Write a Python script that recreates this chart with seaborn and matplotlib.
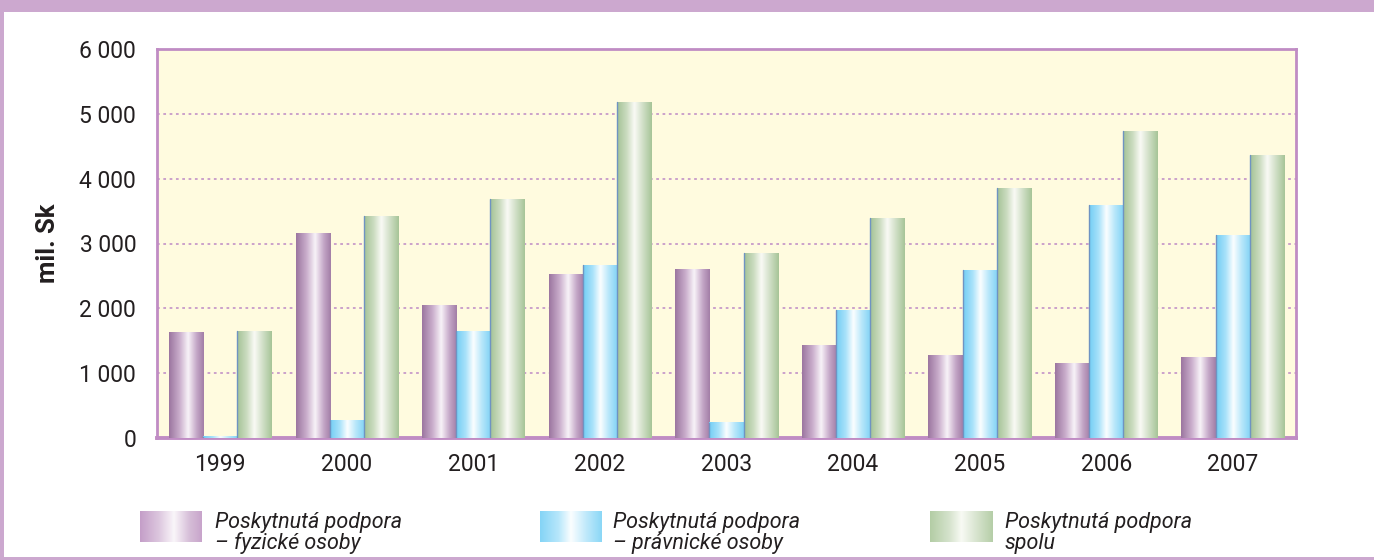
import numpy as np
import pandas as pd
import matplotlib
matplotlib.use("Agg")
import matplotlib.pyplot as plt
from matplotlib.colors import LinearSegmentedColormap
from matplotlib.patches import Rectangle
import seaborn as sns

years = ["1999", "2000", "2001", "2002", "2003", "2004", "2005", "2006", "2007"]
fyzicke = [1630, 3150, 2045, 2525, 2600, 1430, 1275, 1150, 1245]
pravnicke = [20, 270, 1645, 2665, 235, 1970, 2585, 3590, 3130]
spolu = [1645, 3420, 3685, 5180, 2850, 3390, 3855, 4735, 4365]
series_names = ["Poskytnutá podpora\n– fyzické osoby",
                "Poskytnutá podpora\n– právnické osoby",
                "Poskytnutá podpora\nspolu"]
y_ticks = [0, 1000, 2000, 3000, 4000, 5000, 6000]
y_label = "mil. Sk"

sns.set_theme(style="white")
plt.rcParams['font.family'] = ['Roboto', 'DejaVu Sans']

df = pd.DataFrame({
    "year": years * 3,
    "value": fyzicke + pravnicke + spolu,
    "series": [series_names[0]] * 9 + [series_names[1]] * 9 + [series_names[2]] * 9,
})

fig = plt.figure(figsize=(13.74, 5.6), dpi=100)
fig.patch.set_facecolor("white")
W, H = 1374, 560
ax = fig.add_axes([157 / W, 1 - 438 / H, (1296 - 157) / W, (438 - 49) / H])
ax.set_facecolor("#FFFBDF")

sns.barplot(data=df, x="year", y="value", hue="series", order=years,
            hue_order=series_names, width=0.81, ax=ax, legend=False,
            palette=["#b48fb8", "#8fd6f6", "#b5cca8"], errorbar=None,
            saturation=1)

cmaps = [
    LinearSegmentedColormap.from_list("p", [(0, "#9b759f"), (0.3, "#c9adcb"), (0.55, "#f8f3f8"), (0.8, "#c3a5c6"), (1, "#a27ea6")]),
    LinearSegmentedColormap.from_list("c", [(0, "#72cdf4"), (0.28, "#a9e2fa"), (0.5, "#fbfeff"), (0.75, "#b5e6fa"), (1, "#80d2f5")]),
    LinearSegmentedColormap.from_list("g", [(0, "#a3c295"), (0.28, "#cbdcc0"), (0.5, "#f9faf5"), (0.75, "#cfdec5"), (1, "#a6c497")]),
]
grad = np.linspace(0, 1, 256).reshape(1, -1)
bars = list(ax.patches)
for i, p in enumerate(bars):
    s = i // len(years)
    x0, w, h = p.get_x(), p.get_width(), p.get_height()
    p.set_facecolor("none")
    p.set_edgecolor("none")
    if h <= 0:
        continue
    ax.imshow(grad, cmap=cmaps[s], aspect="auto", extent=[x0, x0 + w, 0, h],
              zorder=3, interpolation="bilinear")
    if s > 0:
        ax.plot([x0, x0], [0, h], color="#6f93c2", lw=1.0, zorder=4)

ax.set_xlim(-0.5, 8.5)
ax.set_ylim(0, 6000)
ax.set_yticks(y_ticks)
ax.set_yticklabels([f"{v:,}".replace(",", " ") for v in y_ticks])
for v in y_ticks[1:-1]:
    ax.axhline(v, color="#c79ac9", lw=1.3, ls=(0, (1.5, 2)), zorder=1)
ax.tick_params(axis="y", length=0, pad=15, labelsize=16.5, labelcolor="#231f20")
ax.tick_params(axis="x", length=0, pad=11, labelsize=16.5, labelcolor="#231f20")
ax.set_xlabel("")
ax.set_ylabel(y_label, fontsize=18.5, fontweight="bold", color="#231f20")
ax.yaxis.set_label_coords((60 - 157) / (1296 - 157), 0.5)
for sp in ax.spines.values():
    sp.set_visible(True)
    sp.set_color("#c08cc4")
    sp.set_linewidth(2)
ax.spines["bottom"].set_linewidth(2.8)

# frame decoration
fig.patches.append(Rectangle((0, 1 - 12 / H), 1, 12 / H, transform=fig.transFigure,
                             facecolor="#cca8cf", edgecolor="none", zorder=0))
fig.patches.append(Rectangle((0, 0), 4 / W, 1, transform=fig.transFigure,
                             facecolor="#cca8cf", edgecolor="none", zorder=0))
fig.patches.append(Rectangle((0, 0), 1, 3 / H, transform=fig.transFigure,
                             facecolor="#cca8cf", edgecolor="none", zorder=0))

# legend
leg_cmaps = [
    LinearSegmentedColormap.from_list("lp", [(0, "#c49ec8"), (0.3, "#dcc6de"), (0.55, "#faf6fa"), (0.8, "#d6bed8"), (1, "#c8a4cb")]),
    LinearSegmentedColormap.from_list("lc", [(0, "#84d4f6"), (0.3, "#b7e7fb"), (0.5, "#fbfeff"), (0.75, "#bfe9fb"), (1, "#8ad7f6")]),
    LinearSegmentedColormap.from_list("lg", [(0, "#b3cda5"), (0.3, "#d4e2cb"), (0.5, "#f8faf4"), (0.75, "#d6e3cd"), (1, "#b5cea7")]),
]
sw_x = [140, 540, 930]
tx_x = [215, 613, 1005]
for i, name in enumerate(series_names):
    sax = fig.add_axes([sw_x[i] / W, 1 - 542 / H, 62 / W, 31 / H])
    sax.imshow(grad, cmap=leg_cmaps[i], aspect="auto", interpolation="bilinear")
    sax.axis("off")
    fig.text(tx_x[i] / W, 1 - 533 / H, name, fontsize=15.5, style="italic",
             color="#231f20", va="center", ha="left", linespacing=0.95)

fig.savefig("out.png", dpi=100)
